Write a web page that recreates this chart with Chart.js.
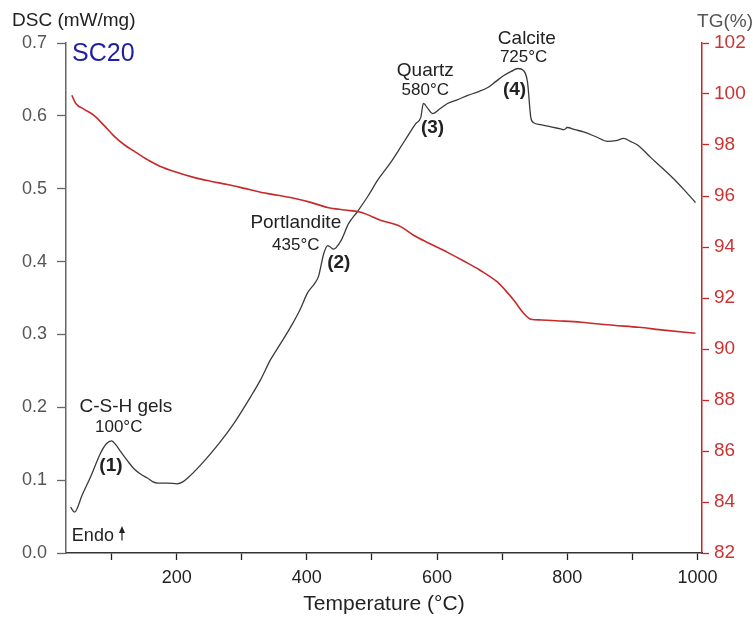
<!DOCTYPE html>
<html>
<head>
<meta charset="utf-8">
<script src="https://cdn.jsdelivr.net/npm/chart.js@4/dist/chart.umd.min.js"></script>
<style>
  html, body { margin: 0; padding: 0; background: #fff; }
  #wrap { width: 753px; height: 617px; }
</style>
</head>
<body>
<div id="wrap"><canvas id="c" width="753" height="617"></canvas></div>
<script>
// DSC signal (mW/mg) against temperature (°C)
const dscTemperature = [37, 43, 55, 68, 83, 92, 100, 107, 114, 124, 134, 145, 155, 163, 171, 186, 201, 210, 217, 237,
  263, 288, 314, 329, 344, 360, 375, 390, 401, 412, 418, 426, 432, 436, 441, 452, 464, 478, 494, 509,
  528, 544, 556, 567, 575, 579, 586, 593, 605, 616, 631, 647, 663, 678, 690, 702, 714, 724, 733, 739,
  744, 748, 759, 775, 790, 795, 800, 812, 825, 845, 862, 875, 887, 897, 908, 928, 945, 963, 980, 997];
const dscValues = [0.063, 0.056, 0.080, 0.105, 0.137, 0.150, 0.154, 0.148, 0.139, 0.127, 0.116, 0.108, 0.103, 0.098, 0.096, 0.096, 0.095, 0.098, 0.103, 0.121,
  0.148, 0.178, 0.215, 0.238, 0.265, 0.288, 0.310, 0.335, 0.357, 0.370, 0.380, 0.411, 0.422, 0.420, 0.417, 0.428, 0.452, 0.469, 0.490, 0.512,
  0.535, 0.557, 0.574, 0.589, 0.598, 0.617, 0.610, 0.603, 0.610, 0.617, 0.622, 0.628, 0.633, 0.639, 0.647, 0.655, 0.661, 0.665, 0.662, 0.646,
  0.598, 0.591, 0.588, 0.585, 0.582, 0.581, 0.584, 0.581, 0.578, 0.571, 0.565, 0.566, 0.569, 0.565, 0.560, 0.543, 0.529, 0.514, 0.498, 0.481];

// Mass (TG, %) against temperature (°C)
const tgTemperature = [39, 45, 58, 73, 88, 103, 120, 140, 158, 175, 200, 226, 252, 278, 304, 329, 355, 380, 406, 432,
  458, 483, 513, 544, 564, 590, 616, 641, 666, 693, 705, 718, 733, 744, 760, 790, 821, 871, 910, 948, 997];
const tgValues = [99.95, 99.63, 99.40, 99.16, 98.78, 98.37, 98.00, 97.67, 97.38, 97.16, 96.93, 96.73, 96.58, 96.45, 96.30, 96.15, 96.03, 95.91, 95.75, 95.55,
  95.45, 95.36, 95.05, 94.80, 94.46, 94.12, 93.79, 93.45, 93.09, 92.62, 92.30, 91.91, 91.40, 91.17, 91.14, 91.10, 91.05, 90.93, 90.85, 90.74, 90.62];

// Axis ticks
const temperatureTicks = [100, 200, 300, 400, 500, 600, 700, 800, 900, 1000];
const dscTicks = [0, 0.1, 0.2, 0.3, 0.4, 0.5, 0.6, 0.7];
const tgTicks = [82, 84, 86, 88, 90, 92, 94, 96, 98, 100, 102];

// Thermal events marked on the DSC curve
const eventNames = ['C-S-H gels', 'Portlandite', 'Quartz', 'Calcite'];
const eventTemps = ['100°C', '435°C', '580°C', '725°C'];
const eventNumbers = ['(1)', '(2)', '(3)', '(4)'];

const FONT = "'Liberation Sans', Arial, sans-serif";

// where each event's text sits, in (°C, mW/mg)
const eventLayout = [
  { name: [122, 0.201], temp: [111, 0.172], num: [99, 0.120] },
  { name: [383, 0.453], temp: [383, 0.422], num: [449, 0.398] },
  { name: [582, 0.662], temp: [582, 0.635], num: [593, 0.584] },
  { name: [738, 0.706], temp: [733, 0.680], num: [719, 0.636] }
];

const annotations = {
  id: 'annotations',
  afterDraw(chart) {
    const { ctx } = chart;
    const x = chart.scales.x, y = chart.scales.y;
    ctx.save();
    ctx.textAlign = 'center';
    ctx.textBaseline = 'middle';
    eventLayout.forEach((p, i) => {
      ctx.fillStyle = '#222';
      ctx.font = '19px ' + FONT;
      ctx.fillText(eventNames[i], x.getPixelForValue(p.name[0]), y.getPixelForValue(p.name[1]));
      ctx.font = '17px ' + FONT;
      ctx.fillText(eventTemps[i], x.getPixelForValue(p.temp[0]), y.getPixelForValue(p.temp[1]));
      ctx.font = 'bold 19px ' + FONT;
      ctx.fillText(eventNumbers[i], x.getPixelForValue(p.num[0]), y.getPixelForValue(p.num[1]));
    });

    // axis headings
    ctx.fillStyle = '#222';
    ctx.font = '19px ' + FONT;
    ctx.textAlign = 'left';
    ctx.fillText('DSC (mW/mg)', 12, 21);
    ctx.fillStyle = '#555';
    ctx.textAlign = 'right';
    ctx.fillText('TG(%)', 753, 22);

    // sample name
    ctx.fillStyle = '#1f1fa8';
    ctx.font = '25px ' + FONT;
    ctx.textAlign = 'left';
    ctx.fillText('SC20', 72, 54);

    // endothermic direction marker
    ctx.fillStyle = '#222';
    ctx.font = '18px ' + FONT;
    ctx.fillText('Endo', x.getPixelForValue(39), y.getPixelForValue(0.023));
    const ax = x.getPixelForValue(116);
    const y0 = y.getPixelForValue(0.017), y1 = y.getPixelForValue(0.037);
    ctx.strokeStyle = '#222';
    ctx.lineWidth = 1.2;
    ctx.beginPath();
    ctx.moveTo(ax, y0);
    ctx.lineTo(ax, y1 + 5);
    ctx.stroke();
    ctx.beginPath();
    ctx.moveTo(ax, y1);
    ctx.lineTo(ax - 3, y1 + 7);
    ctx.lineTo(ax + 3, y1 + 7);
    ctx.closePath();
    ctx.fill();
    ctx.restore();
  }
};

new Chart(document.getElementById('c'), {
  type: 'line',
  data: {
    datasets: [
      {
        label: 'TG',
        data: tgTemperature.map((t, i) => ({ x: t, y: tgValues[i] })),
        yAxisID: 'y1',
        borderColor: '#c62a2a',
        borderWidth: 1.6,
        pointRadius: 0,
        cubicInterpolationMode: 'monotone'
      },
      {
        label: 'DSC',
        data: dscTemperature.map((t, i) => ({ x: t, y: dscValues[i] })),
        yAxisID: 'y',
        borderColor: '#3a3a3a',
        borderWidth: 1.3,
        pointRadius: 0,
        cubicInterpolationMode: 'monotone'
      }
    ]
  },
  options: {
    responsive: false,
    animation: false,
    layout: { padding: { top: 43, left: 0, right: 0, bottom: 0 } },
    plugins: { legend: { display: false }, tooltip: { enabled: false } },
    scales: {
      x: {
        type: 'linear',
        position: 'bottom',
        min: 30,
        max: 1007,
        afterBuildTicks: s => { s.ticks = temperatureTicks.map(v => ({ value: v })); },
        afterFit: s => { s.height = 64; },
        ticks: {
          callback: v => (v % 200 === 0 ? String(v) : ''),
          font: { size: 18, family: FONT },
          color: '#222',
          padding: 7,
          maxRotation: 0,
          autoSkip: false
        },
        grid: { drawOnChartArea: false, tickLength: 7, color: '#222', tickWidth: 1.3 },
        border: { color: '#333', width: 1.5 },
        title: {
          display: true,
          text: 'Temperature (°C)',
          font: { size: 21, family: FONT },
          color: '#222',
          padding: { top: 0, bottom: 0 }
        }
      },
      y: {
        type: 'linear',
        position: 'left',
        min: 0,
        max: 0.7,
        afterBuildTicks: s => { s.ticks = dscTicks.map(v => ({ value: v })); },
        afterFit: s => { s.width = 66; },
        ticks: {
          callback: v => v.toFixed(1),
          font: { size: 18, family: FONT },
          color: '#555',
          padding: 10
        },
        grid: { drawOnChartArea: false, tickLength: 9, color: '#666', tickWidth: 1.3 },
        border: { color: '#666', width: 1.5 }
      },
      y1: {
        type: 'linear',
        position: 'right',
        min: 82,
        max: 102,
        afterBuildTicks: s => { s.ticks = tgTicks.map(v => ({ value: v })); },
        afterFit: s => { s.width = 51; },
        ticks: {
          font: { size: 19, family: FONT },
          color: '#cc3333',
          padding: 5
        },
        grid: { drawOnChartArea: false, tickLength: 7, color: '#cc2222', tickWidth: 1.3 },
        border: { color: '#cc2222', width: 1.5 }
      }
    }
  },
  plugins: [annotations]
});
</script>
</body>
</html>
